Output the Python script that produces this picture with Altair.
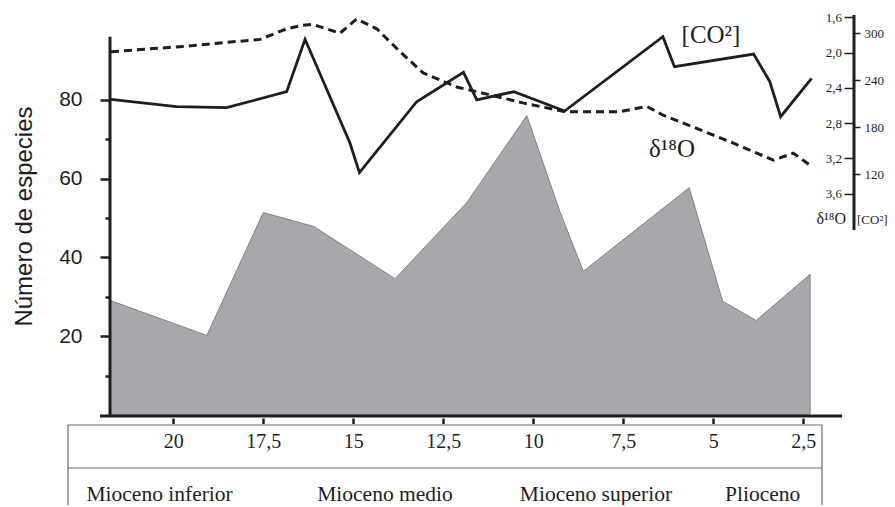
import altair as alt
import pandas as pd

# ---------------- data ----------------
# Number of species (grey area), age in Ma
sp_age = [21.76, 19.07, 17.50, 16.11, 13.84, 11.85, 10.18, 9.26, 8.61, 5.67, 4.74, 3.81, 2.31]
sp_val = [29.1, 20.2, 51.4, 47.9, 34.6, 53.9, 76.0, 51.6, 36.5, 57.7, 28.9, 24.0, 35.7]

# delta 18O (dashed line)
d18_age = [21.73, 19.73, 17.59, 16.85, 16.40, 16.12, 15.37, 14.91, 14.35, 13.70, 13.06, 12.13,
           11.20, 10.29, 9.12, 7.59, 6.85, 6.39, 5.46, 4.54, 3.33, 2.78, 2.27]
d18_val = [1.99, 1.93, 1.85, 1.73, 1.69, 1.68, 1.78, 1.62, 1.73, 1.99, 2.23, 2.39,
           2.48, 2.57, 2.67, 2.67, 2.61, 2.71, 2.86, 3.01, 3.22, 3.14, 3.29]

# CO2 (solid line)
co2_age = [21.73, 19.91, 18.52, 16.85, 16.34, 15.09, 14.83, 13.24, 11.94, 11.57, 10.54, 9.13,
           6.40, 6.08, 3.88, 3.43, 3.13, 2.27]
co2_val = [215.6, 206.1, 204.8, 225.3, 292.3, 159.3, 121.7, 212.5, 250.1, 214.7, 225.3, 200.6,
           295.7, 257.3, 273.5, 238.1, 193.3, 242.4]

age_ticks = [20, 17.5, 15, 12.5, 10, 7.5, 5, 2.5]
species_major = [20, 40, 60, 80]
species_minor = [10, 30, 50, 70]
d18_ticks = [1.6, 2.0, 2.4, 2.8, 3.2, 3.6]
co2_ticks = [120, 180, 240, 300]
periods = ["Mioceno inferior", "Mioceno medio", "Mioceno superior", "Plioceno"]
period_age = [20.38, 14.12, 8.26, 3.63]

# ---------------- tables ----------------
sp_df = pd.DataFrame({"age": sp_age, "species": sp_val})
d18_df = pd.DataFrame({"age": d18_age, "d18": d18_val})
co2_df = pd.DataFrame({"age": co2_age, "co2": co2_val})
per_df = pd.DataFrame({"age": period_age, "name": periods})
one = pd.DataFrame({"k": [0]})

W, H = 744, 405
INK = "#1e1e1e"
SERIF = "Liberation Serif"
SANS = "Liberation Sans"

x_scale = alt.Scale(domain=[1.092, 21.758], reverse=True, nice=False, zero=False)
x_axis = alt.Axis(
    values=age_ticks, orient="bottom", offset=3, tickSize=5.5, tickWidth=2.5,
    tickColor=INK, domain=False, grid=False, labelFont=SERIF, labelFontSize=20,
    labelColor=INK, labelPadding=8, labelFlush=False, labelOverlap=False,
    labelExpr="replace(format(datum.value, datum.value % 1 ? '.1f' : 'd'), '.', ',')",
    title=None,
)
x_enc = alt.X("age:Q", scale=x_scale, axis=x_axis)

sp_scale = alt.Scale(domain=[0, 102.8], nice=False, zero=False)
d18_scale = alt.Scale(domain=[1.517, 6.109], reverse=True, nice=False, zero=False)
co2_scale = alt.Scale(domain=[-188.3, 329.8], nice=False, zero=False)

area = alt.Chart(sp_df).mark_area(
    color="#a7a8ab", stroke="#6d6e71", strokeWidth=0.8
).encode(
    x=x_enc,
    y=alt.Y("species:Q", scale=sp_scale, axis=alt.Axis(
        orient="left", values=species_major, tickSize=10, tickWidth=2.5, tickColor=INK,
        domain=False, grid=False, labelFont=SANS, labelFontSize=21, labelColor=INK,
        labelPadding=18, title="Número de especies", titleFont=SANS, titleFontSize=24,
        titleFontWeight="normal", titleColor=INK, titleX=-86, titleY=206,
        titleAngle=270, titleAlign="center", titleBaseline="middle",
    )),
)

minor = alt.Chart(sp_df).mark_point(opacity=0).encode(
    x=x_enc,
    y=alt.Y("species:Q", scale=sp_scale, axis=alt.Axis(
        orient="left", values=species_minor, tickSize=5, tickWidth=2.5, tickColor=INK,
        labels=False, domain=False, grid=False, title=None,
    )),
)

d18_line = alt.Chart(d18_df).mark_line(
    color=INK, strokeWidth=3, strokeDash=[8, 5]
).encode(
    x=x_enc,
    y=alt.Y("d18:Q", scale=d18_scale, axis=alt.Axis(
        orient="left", offset=-W, values=d18_ticks, tickSize=10, tickWidth=1.5,
        tickColor=INK, domain=False, grid=False, labelFont=SERIF, labelFontSize=13,
        labelColor=INK, labelPadding=2.5,
        labelExpr="replace(format(datum.value, '.1f'), '.', ',')", title=None,
    )),
)

co2_line = alt.Chart(co2_df).mark_line(
    color=INK, strokeWidth=2.8, strokeJoin="miter"
).encode(
    x=x_enc,
    y=alt.Y("co2:Q", scale=co2_scale, axis=alt.Axis(
        orient="right", values=co2_ticks, tickSize=6, tickWidth=1.5, tickColor=INK,
        domain=False, grid=False, labelFont=SERIF, labelFontSize=13, labelColor=INK,
        labelPadding=4, title=None,
    )),
)

def rule(x, y, x2=None, y2=None, color=INK, width=2.5):
    enc = {"x": alt.value(x), "y": alt.value(y)}
    if x2 is not None:
        enc["x2"] = alt.value(x2)
    if y2 is not None:
        enc["y2"] = alt.value(y2)
    return alt.Chart(one).mark_rule(color=color, strokeWidth=width).encode(**enc)

def label(txt, x, y, size, align="center", font=SERIF):
    return alt.Chart(pd.DataFrame({"t": [txt]})).mark_text(
        font=font, fontSize=size, color=INK, align=align, baseline="alphabetic"
    ).encode(text="t:N", x=alt.value(x), y=alt.value(y))

decor = [
    rule(0, 26.8, y2=H, width=3),              # left axis line
    rule(-10, H + 1, x2=732, width=3),          # base line
    rule(W, 5, y2=220, width=3),                # right axis line
    rule(-42, 415, x2=712, color="#6a6a6a", width=1.2),   # table top
    rule(-42, 458, x2=712, color="#6a6a6a", width=1.2),   # table separator
    rule(-42, 415, y2=505, color="#6a6a6a", width=1.2),   # table left
    rule(712, 415, y2=505, color="#6a6a6a", width=1.2),   # table right
    label("[CO²]", 601, 33, 25),
    label("δ¹⁸O", 562, 147, 25),
    label("δ¹⁸O", 736, 214, 16, align="right"),
    label("[CO²]", 747, 214, 13, align="left"),
]

period_text = alt.Chart(per_df).mark_text(
    font=SERIF, fontSize=21.5, color=INK, align="center", baseline="alphabetic"
).encode(x=x_enc, y=alt.value(491), text="name:N")

chart = alt.layer(
    area, minor, d18_line, co2_line, period_text, *decor
).resolve_scale(y="independent").properties(
    width=W, height=H,
    padding={"left": 102, "top": 2, "right": 33, "bottom": 90},
    autosize=alt.AutoSizeParams(type="none"),
    background="white",
).configure_view(stroke=None)

chart.save("out.html", embed_options={"renderer": "svg", "actions": False})
